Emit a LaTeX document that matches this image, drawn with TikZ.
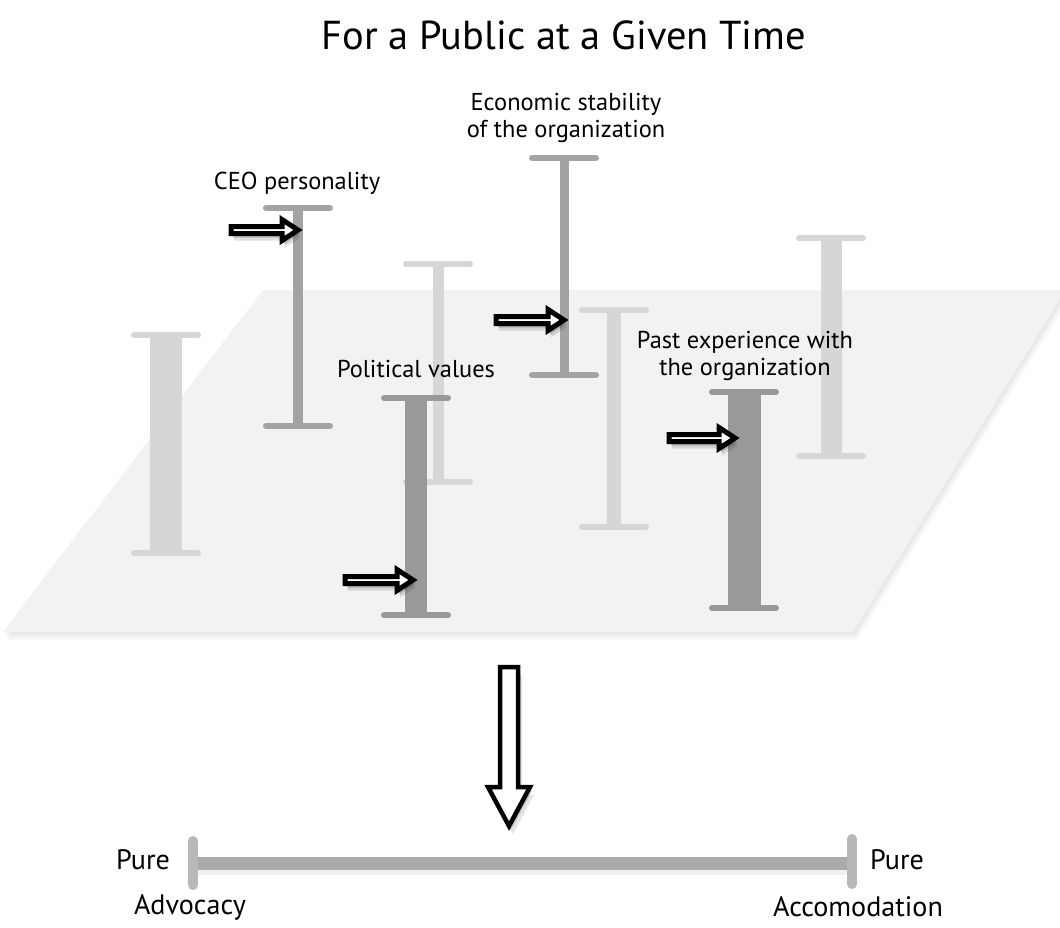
\documentclass[tikz,border=0pt]{standalone}
\usepackage{fontspec}
\setmainfont{PT Sans}
\usetikzlibrary{calc}
\definecolor{planecol}{HTML}{F2F2F2}
\definecolor{lightbar}{HTML}{D6D6D6}
\definecolor{midbar}{HTML}{A3A3A3}
\definecolor{darkbar}{HTML}{999999}
\definecolor{scalebar}{HTML}{ABABAB}
\definecolor{tickbar}{HTML}{B8B8B8}
\newdimen\pxu \pxu=0.02cm
\newcommand\ibar[6]{% name, x, ytop, ybot, stem width, colour
  \coordinate (#1top) at (#2,#3);
  \coordinate (#1bot) at (#2,#4);
  \draw[#6, line width=#5\pxu] (#1top) -- (#1bot);
  \draw[#6, capline] ($(#1top)+(-32,0)$) -- ($(#1top)+(32,0)$);
  \draw[#6, capline] ($(#1bot)+(-32,0)$) -- ($(#1bot)+(32,0)$);
}
\newcommand\harrowpath[1]{({-#1+3},-3.5) -- (-19,-3.5) -- (-19,-10.5) -- (-3,0) -- (-19,10.5) -- (-19,3.5) -- ({-#1+3},3.5) -- cycle}
\newcommand\harrow[2]{%
  \fill[black, opacity=0.12, shift={($(#1)+(3,7)$)}] \harrowpath{#2};
  \fill[black, opacity=0.18, shift={($(#1)+(2,4)$)}] \harrowpath{#2};
  \draw[arrowline, shift={(#1)}] \harrowpath{#2};
}
\newcommand\planepath{(263,290) -- (1066,290) -- (853,632) -- (3,632) -- cycle}
\tikzset{
  capline/.style={line width=6\pxu, line cap=round},
  arrowline/.style={draw=black, fill=white, line width=5\pxu, line join=miter},
  lbl/.style={inner sep=0pt, font=\fontsize{13.9}{16.5}\selectfont, align=center},
  biglbl/.style={inner sep=0pt, font=\fontsize{16}{19}\selectfont},
}
\begin{document}
\begin{tikzpicture}[x=0.02cm, y=-0.02cm]
\useasboundingbox (0,0) rectangle (1060,927);
\fill[white] (0,0) rectangle (1060,927);
% plane with soft shadow
\begin{scope}
\clip (0,0) rectangle (1060,927);
\foreach \d in {2,4,6,8}{
  \fill[black, opacity=0.025, shift={(\d/2,\d)}] \planepath;
}
\fill[planecol] \planepath;
\end{scope}
% light bars
\ibar{leftL}{166}{335}{553}{32}{lightbar}
\ibar{behindP}{438}{264}{482}{11}{lightbar}
\ibar{midL}{614}{310}{527}{14}{lightbar}
\ibar{rightL}{831}{238}{456}{21}{lightbar}
% mid bars
\ibar{ceo}{298}{208}{426}{10}{midbar}
\ibar{econ}{564}{158}{375}{9}{midbar}
% dark bars
\ibar{pol}{416}{398}{615}{22}{darkbar}
\ibar{past}{744}{392}{608}{33}{darkbar}
% arrow tips on bars
\coordinate (ceoT) at (301,230);
\coordinate (econT) at (567,320);
\coordinate (polT) at (416,580);
\coordinate (pastT) at (738,438);
\harrow{ceoT}{73}
\harrow{econT}{74}
\harrow{polT}{74}
\harrow{pastT}{72}
% labels
\node[inner sep=0pt, font=\fontsize{23}{28}\selectfont] (title) at (564,35) {For a Public at a Given Time};
\node[lbl] (econlbl) at (566,118) {Economic stability\\[-1pt]of the organization};
\node[lbl] (ceolbl) at (297,183) {CEO personality};
\node[lbl] (pollbl) at (416,369) {Political values};
\node[lbl] (pastlbl) at (745,356) {Past experience with\\[-1pt]the organization};
% big down arrow
\coordinate (bigtop) at (509,667);
\coordinate (bigtip) at (509,826);
\foreach \s/\o in {4/0.10,2/0.15}{
\fill[black, opacity=\o] ($(bigtop)+(-9+\s,2*\s)$) -- ($(bigtop)+(9+\s,2*\s)$) -- ($(bigtop)+(9+\s,120+2*\s)$) -- ($(bigtop)+(21+\s,120+2*\s)$) -- ($(bigtip)+(\s,2*\s)$) -- ($(bigtop)+(-21+\s,120+2*\s)$) -- ($(bigtop)+(-9+\s,120+2*\s)$) -- cycle;
}
\draw[arrowline, line width=4.5\pxu] ($(bigtop)+(-9,0)$) -- ($(bigtop)+(9,0)$) -- ($(bigtop)+(9,120)$) -- ($(bigtop)+(21,120)$) -- (bigtip) -- ($(bigtop)+(-21,120)$) -- ($(bigtop)+(-9,120)$) -- cycle;
% scale
\coordinate (scaleL) at (193,863);
\coordinate (scaleR) at (852,863);
\draw[black, opacity=0.06, line width=13\pxu] ($(scaleL)+(2,5)$) -- ($(scaleR)+(2,5)$);
\draw[scalebar, line width=13\pxu] (scaleL) -- (scaleR);
\draw[tickbar, line width=10\pxu, line cap=round] ($(scaleL)+(0,-22)$) -- ($(scaleL)+(0,22)$);
\draw[tickbar, line width=10\pxu, line cap=round] ($(scaleR)+(0,-24)$) -- ($(scaleR)+(0,21)$);
\node[biglbl] (pureL) at (143,860) {Pure};
\node[biglbl] (advo) at (190,907) {Advocacy};
\node[biglbl] (pureR) at (897,860) {Pure};
\node[biglbl] (acco) at (858,907) {Accomodation};
\end{tikzpicture}
\end{document}
